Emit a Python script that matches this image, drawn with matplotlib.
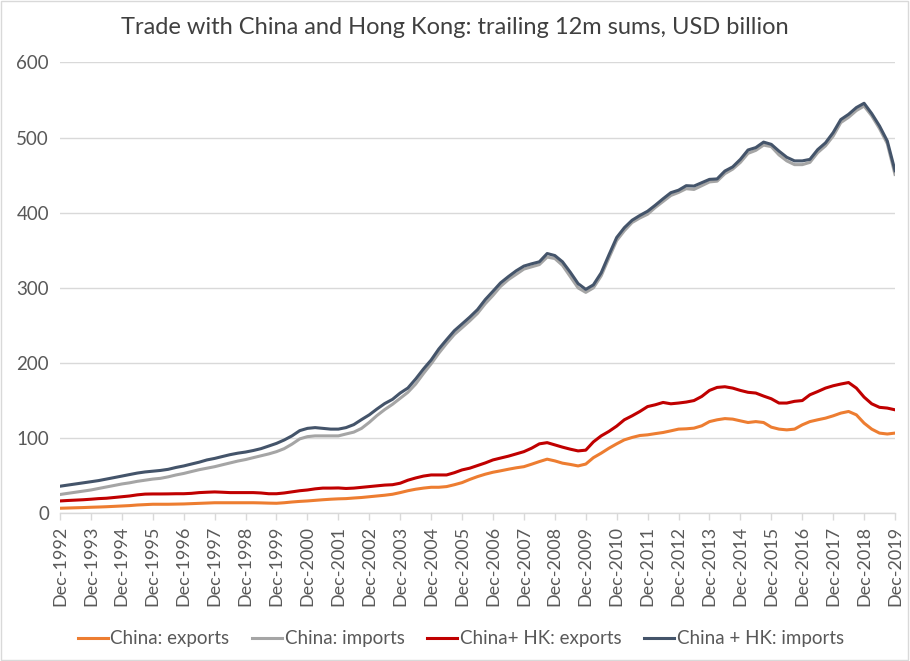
import matplotlib.pyplot as plt
import matplotlib.dates as mdates
import pandas as pd

plt.rcParams['font.family'] = ['Lato', 'DejaVu Sans']

# quarterly points, Dec-1992 .. Dec-2019
dates = pd.date_range('1992-12-01', '2019-12-01', freq='3MS')

china_exports = [
    6.7,
    7, 7.3, 7.6, 8,
    8.3, 8.7, 9.2, 9.7,
    10.2, 11, 11.5, 12,
    12, 12, 12.2, 12.4,
    12.8, 13.2, 13.6, 14,
    14, 14, 14, 14,
    14, 13.8, 13.5, 13.3,
    14, 15, 15.8, 16.4,
    17.2, 18, 18.7, 19.2,
    19.5, 20.3, 21, 22,
    23, 24, 25.3, 27.5,
    30, 32, 33.5, 34.6,
    34.6, 35.5, 38, 40.8,
    45, 48.8, 52, 54.6,
    56.5, 58.6, 60.5, 62,
    65.3, 68.8, 72, 69.7,
    66.7, 65, 63, 65.5,
    74, 80, 86.6, 92.4,
    97.7, 100.9, 103.5, 104.4,
    106, 107.5, 109.7, 112,
    112.4, 113.3, 116.4, 122,
    124.4, 126, 125.3, 123,
    120.8, 122, 120.8, 114.6,
    112, 111, 112, 117.7,
    122, 124.4, 126.6, 129.7,
    133.3, 135.5, 131, 120,
    112, 106.7, 105.5, 106.7,
]

china_imports = [
    25,
    26.5, 28, 29.5, 31,
    33, 35, 37, 39,
    40.5, 42.5, 44, 45.5,
    46.5, 48.5, 51, 53,
    55.5, 58, 60, 62,
    64.5, 67, 69.5, 71.5,
    74, 76.5, 79, 82,
    86, 92, 99, 102,
    103, 103, 103, 103,
    105.5, 108, 113, 121,
    130, 138, 145, 153,
    161, 172, 186, 199,
    213, 226, 238, 247,
    256, 266, 279, 290,
    302, 311, 318, 325,
    328, 331, 341, 339,
    330, 315, 300, 294,
    300, 316, 340, 363,
    376, 387, 393, 398,
    407, 415, 423, 427,
    432, 431, 436, 441,
    442, 452, 458, 467,
    479, 483, 490, 488,
    477, 469, 464, 464,
    467, 480, 489, 502,
    520, 527, 536, 542,
    529, 512, 492, 451,
]

hk_exports = [
    16.4,
    17, 17.5, 18, 18.7,
    19.5, 20, 21, 22,
    23, 24.5, 25.5, 25.7,
    25.7, 25.8, 26, 26,
    26.5, 27.5, 28, 28.4,
    28, 27.5, 27.5, 27.5,
    27.5, 27, 26, 26,
    27, 28.5, 30, 31,
    32.5, 33.5, 33.5, 33.7,
    33, 33.5, 34.5, 35.5,
    36.5, 37.5, 38, 40,
    44, 47, 49.5, 51,
    51, 51, 54, 57.7,
    60, 63.5, 67, 71,
    73.5, 76, 79, 82,
    86.6, 92.4, 94, 91,
    88, 85.3, 83, 84,
    95, 103, 109, 116,
    124.4, 129.7, 135.5, 142,
    144.4, 147.5, 145.7, 146.7,
    148, 150, 155.5, 163.5,
    167.5, 168.4, 166.6, 163.5,
    161, 160, 156, 152.4,
    146.7, 146.7, 149, 150,
    157.7, 162, 166.6, 169.7,
    172, 174, 166.6, 154.6,
    145.7, 141, 140, 137.7,
]

hk_imports = [
    36,
    37.5, 39, 40.5, 42,
    43.5, 45.5, 47.5, 49.5,
    51.5, 53.5, 55, 56,
    57, 58.5, 61, 63,
    65.5, 68, 71, 73,
    75.5, 78, 80, 81.5,
    83.5, 86, 89.5, 93,
    97.5, 103, 110, 113,
    114, 113, 112, 112,
    114, 118, 124.7, 131,
    138.7, 146, 151.6, 160,
    166.7, 178.7, 192, 204,
    218.6, 231, 243, 252,
    261, 271, 284.4, 295.5,
    306.7, 315, 322.7, 329,
    332, 334.7, 345.7, 343,
    334.7, 320.8, 305.7, 298,
    304, 320, 344, 367,
    380, 390, 396.4, 402,
    410, 418.6, 426.7, 430,
    436, 435.5, 440, 444.4,
    445, 455.5, 461, 471,
    483.5, 486.7, 494, 491,
    482, 473.8, 469, 469,
    471, 484, 493, 506.7,
    524, 531, 540, 545.7,
    532, 515.5, 495.5, 456,
]

series = [
    ('China: exports', china_exports, '#ED7D31'),
    ('China: imports', china_imports, '#A5A5A5'),
    ('China+ HK: exports', hk_exports, '#C00000'),
    ('China + HK: imports', hk_imports, '#44546A'),
]

fig = plt.figure(figsize=(9.1, 6.61), dpi=100)
ax = fig.add_axes([0.066, 0.2235, 0.9175, 0.682])

for label, values, color in series:
    ax.plot(dates, values, color=color, linewidth=2.2, label=label,
            solid_joinstyle='round')

ax.set_ylim(0, 600)
ax.set_yticks(range(0, 601, 100))
ax.set_xlim(pd.Timestamp('1992-12-01'), pd.Timestamp('2019-12-01'))
ax.xaxis.set_major_locator(mdates.MonthLocator(bymonth=12, bymonthday=1))
ax.xaxis.set_major_formatter(mdates.DateFormatter('%b-%Y'))

ax.grid(True, axis='y', color='#d9d9d9', linewidth=1)
ax.set_axisbelow(True)
for s in ['top', 'right', 'left']:
    ax.spines[s].set_visible(False)
ax.spines['bottom'].set_color('#d9d9d9')
ax.spines['bottom'].set_linewidth(1)

ax.tick_params(axis='x', colors='#d9d9d9', length=5, width=1, labelcolor='#595959',
               labelsize=13, labelrotation=90, pad=4)
ax.tick_params(axis='y', length=0, labelcolor='#595959', labelsize=13.5, pad=8)

fig.suptitle('Trade with China and Hong Kong: trailing 12m sums, USD billion',
             x=0.5, y=0.975, fontsize=17, color='#404040')

ax.legend(loc='lower center', bbox_to_anchor=(0.48, -0.335), ncol=4, frameon=False,
          fontsize=13.5, handlelength=1.6, handletextpad=0.15, columnspacing=1.2,
          labelcolor='#595959')

# outer chart border
fig.patches.append(plt.Rectangle((0.001, 0.002), 0.997, 0.996, transform=fig.transFigure,
                                 fill=False, edgecolor='#d9d9d9', linewidth=1))

fig.savefig('out.png', dpi=100, facecolor='white')
